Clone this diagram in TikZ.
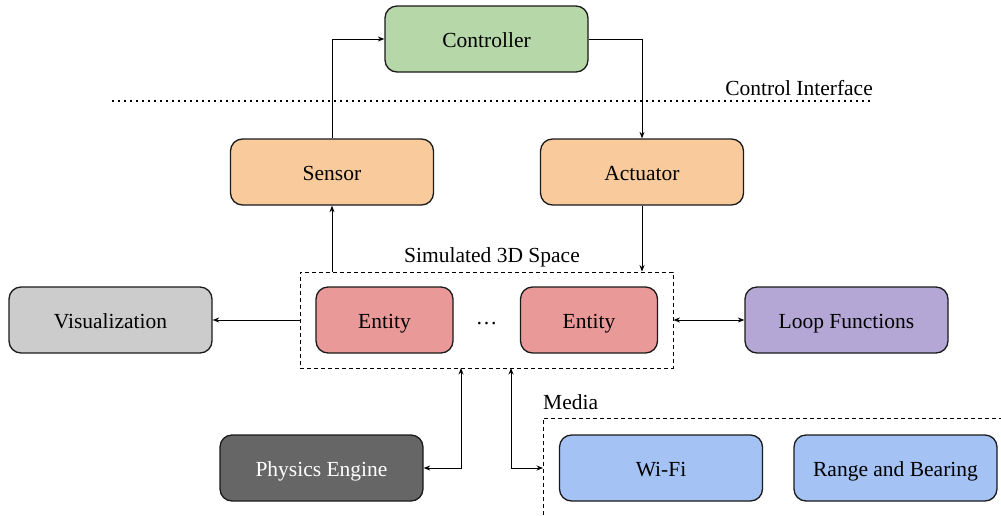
\documentclass[tikz,border=0pt]{standalone}
\usepackage{fontspec}
\setmainfont{Liberation Serif}
\newfontfamily\diagfont{Liberation Serif}
\usetikzlibrary{arrows.meta}
\definecolor{cgreen}{HTML}{B6D7A8}
\definecolor{corange}{HTML}{F9CB9C}
\definecolor{cred}{HTML}{EA9999}
\definecolor{cgray}{HTML}{CCCCCC}
\definecolor{cpurple}{HTML}{B4A7D6}
\definecolor{cdark}{HTML}{666666}
\definecolor{cblue}{HTML}{A4C2F4}
\definecolor{cborder}{HTML}{1A1A1A}
\tikzset{
  block/.style={draw=cborder, line width=1.3pt, rounded corners=12pt,
    minimum width=203pt, minimum height=66pt, inner sep=0pt,
    text height=17pt, text depth=0pt,
    font=\diagfont\fontsize{21.5}{25}\selectfont},
  entitybox/.style={block, minimum width=137pt},
  arr/.style={line width=0.9pt, -{Stealth[length=6.5pt,width=5pt]}},
  arrboth/.style={line width=0.9pt, {Stealth[length=6.5pt,width=5pt]}-{Stealth[length=6.5pt,width=5pt]}},
  region/.style={draw, line width=0.9pt, dash pattern=on 4pt off 3pt},
  caption/.style={font=\diagfont\fontsize{21.5}{25}\selectfont, inner sep=0pt}
}
\begin{document}
\begin{tikzpicture}[x=1pt,y=-1pt]
\useasboundingbox (0,0) rectangle (1001,515);

% control layer
\node[block, fill=cgreen] (ctrl) at (486.5,39) {Controller};
\draw[line width=1.7pt, dash pattern=on 1.7pt off 4.3pt] (112,101) coordinate (ciL) -- (873,101) coordinate (ciR);
\node[caption, anchor=base east] (cilabel) at (873,95) {Control Interface};

% sensing and actuation
\node[block, fill=corange] (sensor) at (332,172) {Sensor};
\node[block, fill=corange] (act) at (642,172) {Actuator};

% simulated space with its entities
\node[region, minimum width=373pt, minimum height=96pt, inner sep=0pt] (space) at (486.5,320) {};
\node[caption, anchor=base] (spacelabel) at (492,262) {Simulated 3D Space};
\node[entitybox, fill=cred] (ent1) at (384.5,320) {Entity};
\node[entitybox, fill=cred] (ent2) at (589,320) {Entity};
\node[caption, anchor=base] (dots) at (486.5,324.5) {\char"2026};

\node[block, fill=cgray] (vis) at (110.5,320) {Visualization};
\node[block, fill=cpurple] (loop) at (846.5,320) {Loop Functions};

% engines and media
\node[block, fill=cdark, text=white] (phys) at (321.5,468) {Physics Engine};
\node[block, fill=cblue] (wifi) at (661,468) {Wi-Fi};
\node[block, fill=cblue] (rab) at (895.5,468) {Range and Bearing};
\coordinate (mediaB) at (543,515);
\coordinate (mediaC) at (543,418);
\coordinate (mediaR) at (1001,418);
\draw[region] (mediaB) -- (mediaC) -- (mediaR);
\node[caption, anchor=base west] (medialabel) at (543,409) {Media};

% connectors
\draw[arr] (sensor.north) |- (ctrl.west);
\draw[arr] (ctrl.east) -| (act.north);
\draw[arr] (space.north -| sensor.south) -- (sensor.south);
\draw[arr] (act.south) -- (act.south |- space.north);
\draw[arr] (space.west) -- (vis.east);
\draw[arrboth] (loop.west) -- (space.east);
\coordinate (physIn) at (461,368);
\coordinate (mediaOut) at (511,368);
\coordinate (mediaIn) at (543,468);
\draw[arrboth] (phys.east) -| (physIn);
\draw[arrboth] (mediaOut) |- (mediaIn);
\end{tikzpicture}
\end{document}
